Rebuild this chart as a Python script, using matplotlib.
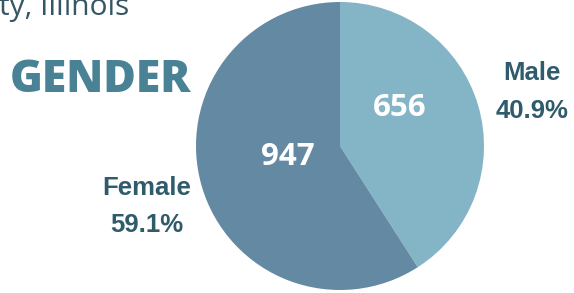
import matplotlib.pyplot as plt

# Gender breakdown
labels = ['Male', 'Female']
counts = [656, 947]
shares = ['40.9%', '59.1%']
colors = ['#84b5c6', '#6489a3']

W, H = 574, 293
fig = plt.figure(figsize=(W / 100, H / 100), dpi=100)
ax = fig.add_axes([0, 0, 1, 1])

# pie centred at image pixel (340, 146), radius 144
cx, cy, r = 340, H - 146, 144
ax.pie(counts, colors=colors, startangle=90, counterclock=False,
       center=(cx, cy), radius=r, frame=True,
       wedgeprops=dict(linewidth=0))
ax.set_xlim(0, W)
ax.set_ylim(0, H)
ax.set_aspect('equal')
ax.axis('off')

# counts inside the slices
ax.text(400, H - 108, str(counts[0]), color='white', fontsize=22.5,
        fontweight='bold', family='Open Sans', ha='center', va='center')
ax.text(288, H - 157, str(counts[1]), color='white', fontsize=22.5,
        fontweight='bold', family='Open Sans', ha='center', va='center')

# outside labels
lab_col = '#2f5b6b'
lab_kw = dict(color=lab_col, fontsize=18.5, fontweight='bold',
              family='Liberation Sans', ha='center', va='baseline')
ax.text(532, H - 80, labels[0], **lab_kw)
ax.text(532, H - 118, shares[0], **lab_kw)
ax.text(147, H - 195, labels[1], **lab_kw)
ax.text(147, H - 232, shares[1], **lab_kw)

# title pieces (top line is cropped in the source image)
ax.text(-1, H - 15, 'ty, Illinois', color='#355763', fontsize=21.5,
        family='Open Sans', ha='left', va='baseline')
ax.text(10, H - 92, 'GENDER', color='#4a8295', fontsize=32,
        fontweight='heavy', family='Open Sans', ha='left', va='baseline')

fig.savefig('out.png', dpi=100)
